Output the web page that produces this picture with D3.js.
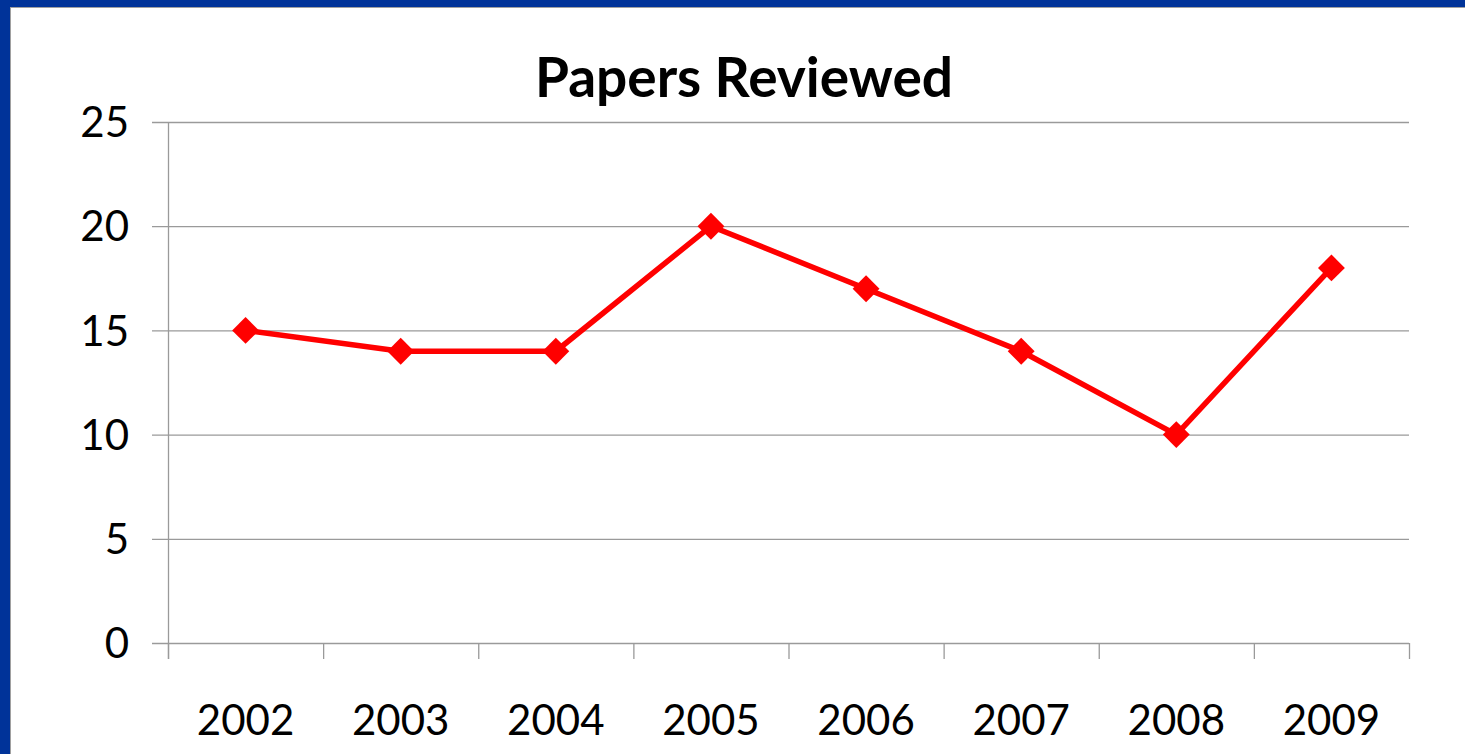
<!DOCTYPE html>
<html><head><meta charset="utf-8">
<script src="https://cdn.jsdelivr.net/npm/d3@7"></script>
<style>html,body{margin:0;padding:0;background:#fff;overflow:hidden}</style>
</head><body>
<svg id="c" width="1465" height="754"></svg>
<script>
const years = ["2002","2003","2004","2005","2006","2007","2008","2009"];
const papers = [15,14,14,20,17,14,10,18];
const yTicks = [0,5,10,15,20,25];
const title = "Papers Reviewed";

(function(){
const svg = d3.select("#c");
const W = 1465, H = 754;
// frame
svg.append("rect").attr("x",0).attr("y",0).attr("width",W).attr("height",H).attr("fill","#003399");
svg.append("rect").attr("x",10).attr("y",7).attr("width",W-10).attr("height",H-7).attr("fill","#a0a0a0");
svg.append("rect").attr("x",11).attr("y",8).attr("width",W-11).attr("height",H-8).attr("fill","#fff");

const pL = 168, pR = 1409, pT = 122, pB = 643;
const x = d3.scaleBand().domain(years).range([pL,pR]);
const y = d3.scaleLinear().domain([0,25]).range([pB,pT]);
const font = "Lato, 'Open Sans', sans-serif";

// gridlines
svg.append("g").selectAll("line").data(yTicks).join("line")
  .attr("x1",pL-16).attr("x2",pR).attr("y1",d=>y(d)+0.5).attr("y2",d=>y(d)+0.5)
  .attr("stroke","#9a9a9a").attr("stroke-width",1.3);

// y axis line
svg.append("line").attr("x1",pL+0.5).attr("x2",pL+0.5).attr("y1",pT).attr("y2",pB+16)
  .attr("stroke","#9a9a9a").attr("stroke-width",1.3);

// x axis ticks
const xt = years.map(d=>x(d)).concat([pR]);
svg.append("g").selectAll("line").data(xt).join("line")
  .attr("x1",d=>d+0.5).attr("x2",d=>d+0.5).attr("y1",pB).attr("y2",pB+16)
  .attr("stroke","#9a9a9a").attr("stroke-width",1.3);

// y labels
svg.append("g").selectAll("text").data(yTicks).join("text")
  .attr("x",129).attr("y",d=>y(d)).attr("dy","0.36em")
  .attr("text-anchor","end").attr("font-family",font).attr("font-size",42)
  .attr("fill","#000").text(d=>d);

// x labels
svg.append("g").selectAll("text").data(years).join("text")
  .attr("x",d=>x(d)+x.bandwidth()/2).attr("y",735)
  .attr("text-anchor","middle").attr("font-family",font).attr("font-size",42)
  .attr("fill","#000").text(d=>d);

// title
svg.append("text").attr("x",744).attr("y",97).attr("text-anchor","middle")
  .attr("font-family",font).attr("font-weight","bold").attr("font-size",55)
  .attr("fill","#000").text(title);

// line
const line = d3.line().x((d,i)=>x(years[i])+x.bandwidth()/2).y(d=>y(d));
svg.append("path").datum(papers).attr("d",line).attr("fill","none")
  .attr("stroke","#ff0000").attr("stroke-width",5.5).attr("stroke-linejoin","round");

// markers
const sym = d3.symbol().type(d3.symbolSquare).size(19*19);
svg.append("g").selectAll("path").data(papers).join("path")
  .attr("d",sym)
  .attr("transform",(d,i)=>`translate(${x(years[i])+x.bandwidth()/2},${y(d)}) rotate(45)`)
  .attr("fill","#ff0000");
})();
</script>
</body></html>
